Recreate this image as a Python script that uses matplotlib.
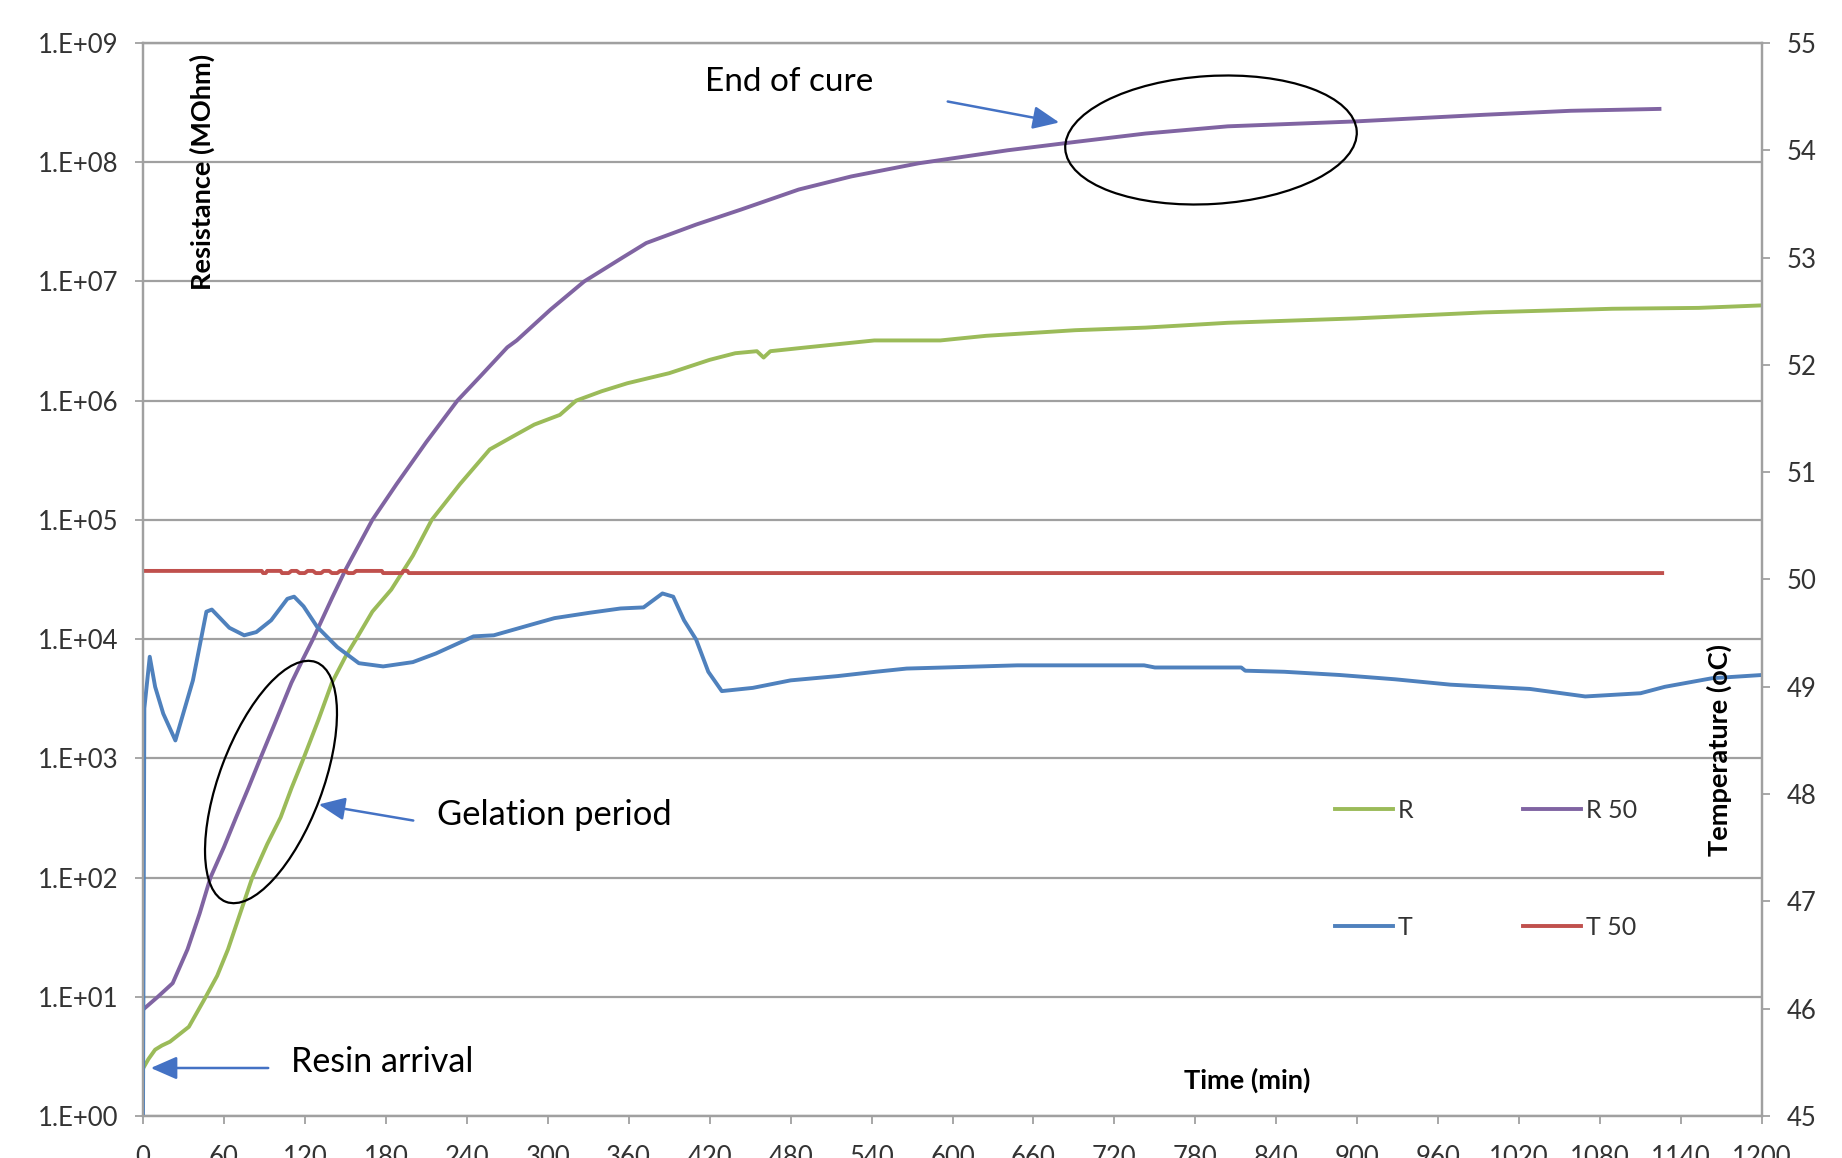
import matplotlib
matplotlib.use("Agg")
import matplotlib.pyplot as plt
from matplotlib.patches import Ellipse

plt.rcParams['font.family'] = ['Lato', 'DejaVu Sans']

W, H = 1842, 1158

# time (min) and resistance (MOhm) - sensor R
r_time = [0, 4, 9, 14, 20, 34, 45, 55, 63, 72, 81, 92, 102, 110, 119, 130, 140, 150, 158,
          170, 184, 200, 214, 235, 257, 274, 290, 309, 321, 340, 359, 390, 420, 439, 455,
          460, 465, 492, 542, 591, 625, 691, 743, 804, 899, 994, 1089, 1153, 1200]
r_vals = [2.5, 3.0, 3.6, 3.9, 4.2, 5.6, 9.3, 15, 25, 50, 100, 190, 320, 560, 1.0e3, 2.1e3,
          4.3e3, 7.1e3, 1.0e4, 1.7e4, 2.6e4, 5.0e4, 1.0e5, 2.0e5, 3.9e5, 5.0e5, 6.3e5, 7.6e5,
          1.0e6, 1.2e6, 1.4e6, 1.7e6, 2.2e6, 2.5e6, 2.6e6, 2.3e6, 2.6e6, 2.8e6, 3.2e6, 3.2e6,
          3.5e6, 3.9e6, 4.1e6, 4.5e6, 4.9e6, 5.5e6, 5.9e6, 6.0e6, 6.3e6]

# sensor R 50
r50_time = [0, 11, 22, 33, 42, 50, 60, 69, 78, 87, 98, 110, 118, 126, 140, 150, 158, 170,
            188, 210, 233, 250, 270, 277, 302, 327, 356, 373, 410, 443, 486, 525, 575, 641,
            691, 743, 804, 899, 994, 1058, 1124]
r50_vals = [7.8, 10, 13, 25, 50, 100, 180, 320, 560, 1.0e3, 2.0e3, 4.3e3, 6.6e3, 1.0e4,
            2.2e4, 3.8e4, 5.6e4, 1.0e5, 2.0e5, 4.5e5, 1.0e6, 1.6e6, 2.8e6, 3.2e6, 5.8e6,
            1.0e7, 1.6e7, 2.1e7, 3.0e7, 4.0e7, 5.9e7, 7.6e7, 9.8e7, 1.26e8, 1.48e8, 1.74e8,
            2.0e8, 2.2e8, 2.5e8, 2.7e8, 2.8e8]

# temperature T (oC)
t_time = [0, 1, 5, 9, 15, 24, 37, 47, 51, 64, 75, 84, 95, 107, 112, 119, 129, 144, 160,
          178, 200, 217, 245, 260, 288, 305, 331, 354, 371, 385, 393, 401, 410, 419, 429,
          452, 480, 515, 543, 566, 594, 648, 742, 750, 814, 817, 846, 887, 928, 969, 1028,
          1069, 1110, 1128, 1163, 1200]
t_vals = [45.0, 48.8, 49.28, 49.0, 48.75, 48.5, 49.06, 49.70, 49.72, 49.55, 49.48, 49.51,
          49.62, 49.82, 49.84, 49.75, 49.56, 49.37, 49.22, 49.19, 49.23, 49.31, 49.47, 49.48,
          49.58, 49.64, 49.69, 49.73, 49.74, 49.87, 49.84, 49.62, 49.44, 49.14, 48.96, 48.99,
          49.06, 49.10, 49.14, 49.17, 49.18, 49.20, 49.20, 49.18, 49.18, 49.15, 49.14, 49.11,
          49.07, 49.02, 48.98, 48.91, 48.94, 49.00, 49.08, 49.11]

# temperature T 50 (oC)
t50_time = [0, 88, 89, 91, 92, 102, 103, 108, 110, 114, 116, 120, 122, 126, 128, 132, 134,
            138, 140, 144, 146, 150, 152, 156, 158, 177, 178, 192, 193, 196, 197, 1126]
t50_vals = [50.08, 50.08, 50.06, 50.06, 50.08, 50.08, 50.06, 50.06, 50.08, 50.08, 50.06,
            50.06, 50.08, 50.08, 50.06, 50.06, 50.08, 50.08, 50.06, 50.06, 50.08, 50.08,
            50.06, 50.06, 50.08, 50.08, 50.06, 50.06, 50.08, 50.08, 50.06, 50.06]

x_ticks = list(range(0, 1201, 60))
left_ticks = [1e0, 1e1, 1e2, 1e3, 1e4, 1e5, 1e6, 1e7, 1e8, 1e9]
left_labels = ["1.E+00", "1.E+01", "1.E+02", "1.E+03", "1.E+04",
               "1.E+05", "1.E+06", "1.E+07", "1.E+08", "1.E+09"]
right_ticks = list(range(45, 56))

GREEN, PURPLE, BLUE, RED = "#9BBB59", "#8064A2", "#4F81BD", "#C0504D"
GRID = "#A0A0A0"
TXT = "#333333"


def fx(x):
    return x / W


def fy(y):
    return 1 - y / H


fig = plt.figure(figsize=(W / 100, H / 100), dpi=100)
ax = fig.add_axes([fx(143), fy(1116), fx(1762) - fx(143), fy(43) - fy(1116)])
ax2 = ax.twinx()

lr, = ax.plot(r_time, r_vals, color=GREEN, lw=2.8, label="R")
lr50, = ax.plot(r50_time, r50_vals, color=PURPLE, lw=2.8, label="R 50")
lt, = ax2.plot(t_time, t_vals, color=BLUE, lw=2.8, label="T")
lt50, = ax2.plot(t50_time, t50_vals, color=RED, lw=2.8, label="T 50")

ax.set_yscale("log")
ax.set_ylim(1, 1e9)
ax.set_xlim(0, 1200)
ax.set_xticks(x_ticks)
ax.set_yticks(left_ticks)
ax.set_yticklabels(left_labels)
ax.minorticks_off()
ax.grid(axis="y", color=GRID, lw=1.6)
ax.set_axisbelow(True)

ax2.set_ylim(45, 55)
ax2.set_yticks(right_ticks)

for a in (ax, ax2):
    for s in a.spines.values():
        s.set_color(GRID)
        s.set_linewidth(1.6)
    a.tick_params(colors=GRID, labelcolor=TXT, length=6, width=1.3, labelsize=18.5, pad=12)
# the time labels run off the bottom edge in the original too
ax.tick_params(axis="x", pad=15)

# axis titles sit inside the plot, like the original
fig.text(fx(202), fy(172), "Resistance (MOhm)", rotation=90, ha="center", va="center",
         fontsize=19.5, fontweight="bold", color="black")
fig.text(fx(1719), fy(750), "Temperature (oC)", rotation=90, ha="center", va="center",
         fontsize=19.5, fontweight="bold", color="black")
fig.text(fx(1247), fy(1080), "Time (min)", ha="center", va="center",
         fontsize=19.5, fontweight="bold", color="black")

# annotations
fig.text(fx(705), fy(82), "End of cure", ha="left", va="center", fontsize=24)
fig.text(fx(437), fy(815), "Gelation period", ha="left", va="center", fontsize=24.8)
fig.text(fx(291), fy(1062), "Resin arrival", ha="left", va="center", fontsize=24.5)

arrow = dict(arrowstyle="-|>,head_length=0.8,head_width=0.35", color="#4472C4", lw=1.8,
             mutation_scale=20)
fig.add_artist(plt.Annotation("", xy=(1062, H - 123), xytext=(945, H - 101),
                              xycoords="figure pixels", textcoords="figure pixels",
                              arrowprops=arrow))
fig.add_artist(plt.Annotation("", xy=(316, H - 804), xytext=(416, H - 821),
                              xycoords="figure pixels", textcoords="figure pixels",
                              arrowprops=arrow))
fig.add_artist(plt.Annotation("", xy=(148, H - 1068), xytext=(271, H - 1068),
                              xycoords="figure pixels", textcoords="figure pixels",
                              arrowprops=arrow))

# circled regions, in pixel units (inches at 100 dpi)
fig.add_artist(Ellipse((2.71, (H - 782) / 100), 2.56, 1.03, angle=69.4, fill=False,
                       ec="black", lw=1.6, transform=fig.dpi_scale_trans))
fig.add_artist(Ellipse((12.11, (H - 140) / 100), 2.92, 1.28, angle=3.5, fill=False,
                       ec="black", lw=1.6, transform=fig.dpi_scale_trans))

fig.legend([lr, lt, lr50, lt50], ["R", "T", "R 50", "T 50"], ncol=2, frameon=False,
           loc="upper left", bbox_to_anchor=(fx(1335), fy(799)), borderaxespad=0,
           borderpad=0, fontsize=18, handlelength=2.3, handletextpad=0.2,
           columnspacing=4.4, labelspacing=3.75, labelcolor=TXT)

fig.savefig("out.png", dpi=100)
